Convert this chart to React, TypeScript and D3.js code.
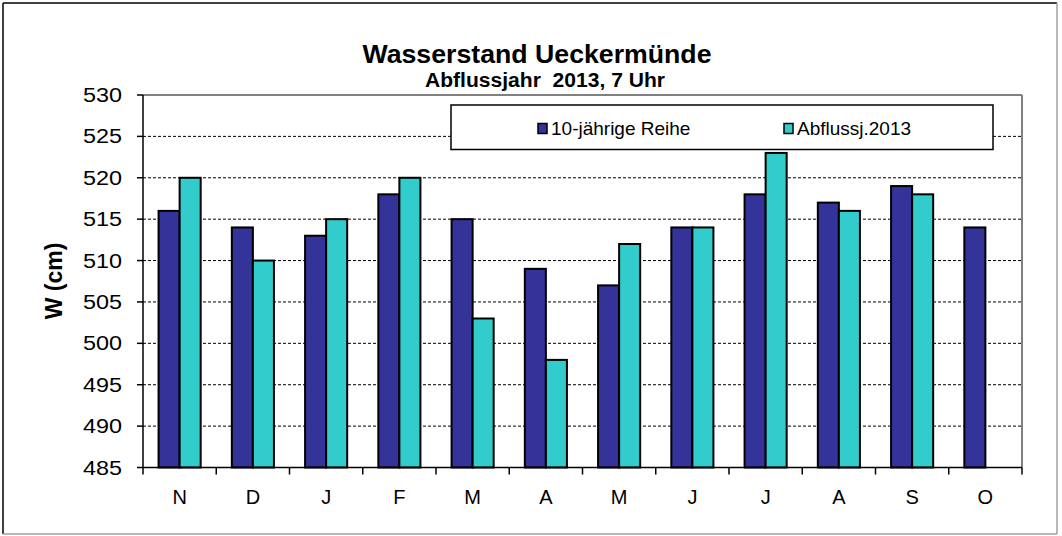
import { scaleBand, scaleLinear, range } from "d3";

const width = 1062;
const height = 536;
const MARGIN = { top: 95, right: 40, bottom: 68.5, left: 143 };
const boundsWidth = width - MARGIN.left - MARGIN.right;
const boundsHeight = height - MARGIN.top - MARGIN.bottom;

const months = ["N", "D", "J", "F", "M", "A", "M", "J", "J", "A", "S", "O"];
const seriesNames = ["10-jährige Reihe", "Abflussj.2013"];
const reihe10 = [516, 514, 513, 518, 515, 509, 507, 514, 518, 517, 519, 514];
const abfluss2013 = [520, 510, 515, 520, 503, 498, 512, 514, 523, 516, 518, null];
const yTicks = [485, 490, 495, 500, 505, 510, 515, 520, 525, 530];
const colors = ["#333399", "#33CCCC"];

const FONT = "'Liberation Sans', Arial, sans-serif";

export default function App() {
  const idx = months.map((_, i) => i);
  const x0 = scaleBand<number>().domain(idx).range([0, boundsWidth]).padding(0);
  const x1 = scaleBand<number>()
    .domain([0, 1])
    .range([0, x0.bandwidth()])
    .paddingInner(0)
    .paddingOuter(0.74);
  const y = scaleLinear().domain([485, 530]).range([boundsHeight, 0]);
  const series = [reihe10, abfluss2013];

  return (
    <svg
      width={width}
      height={height}
      style={{ position: "absolute", left: 0, top: 0, background: "#fff" }}
    >
      <rect width={width} height={height} fill="#fff" />
      {/* outer frame */}
      <line x1={3} x2={1057} y1={3} y2={3} stroke="#000" strokeWidth={1.5} />
      <line x1={3} x2={3} y1={3} y2={534} stroke="#000" strokeWidth={1.5} />
      <line x1={1057} x2={1057} y1={3} y2={534} stroke="#a0a0a0" strokeWidth={1.5} />
      <line x1={3} x2={1057} y1={534} y2={534} stroke="#a0a0a0" strokeWidth={1.5} />

      <text
        x={537}
        y={63}
        textAnchor="middle"
        fontFamily={FONT}
        fontWeight="bold"
        fontSize={26}
        textLength={349}
        lengthAdjust="spacingAndGlyphs"
      >
        Wasserstand Ueckermünde
      </text>
      <text
        x={545}
        y={87}
        textAnchor="middle"
        fontFamily={FONT}
        fontWeight="bold"
        fontSize={20}
        textLength={240}
        lengthAdjust="spacingAndGlyphs"
        style={{ whiteSpace: "pre" }}
      >
        {"Abflussjahr  2013, 7 Uhr"}
      </text>

      <text
        transform={`translate(62, 281) rotate(-90)`}
        textAnchor="middle"
        fontFamily={FONT}
        fontWeight="bold"
        fontSize={23}
      >
        W (cm)
      </text>

      <g transform={`translate(${MARGIN.left},${MARGIN.top})`}>
        {yTicks.slice(1, -1).map((v) => (
          <line
            key={"g" + v}
            x1={0}
            x2={boundsWidth}
            y1={y(v)}
            y2={y(v)}
            stroke="#000"
            strokeWidth={1}
            strokeDasharray="3,2"
          />
        ))}
        {/* plot area border top/right */}
        <line x1={0} x2={boundsWidth} y1={0} y2={0} stroke="#808080" strokeWidth={2} />
        <line x1={boundsWidth} x2={boundsWidth} y1={0} y2={boundsHeight} stroke="#808080" strokeWidth={2} />

        {idx.map((i) =>
          series.map((s, si) => {
            const v = s[i];
            if (v == null) return null;
            return (
              <rect
                key={i + "-" + si}
                x={(x0(i) ?? 0) + (x1(si) ?? 0)}
                y={y(v)}
                width={x1.bandwidth()}
                height={boundsHeight - y(v)}
                fill={colors[si]}
                stroke="#000"
                strokeWidth={2}
              />
            );
          })
        )}

        {/* y axis */}
        <line x1={0} x2={0} y1={0} y2={boundsHeight} stroke="#000" strokeWidth={1.5} />
        {yTicks.map((v) => (
          <g key={"t" + v}>
            <line x1={-6} x2={0} y1={y(v)} y2={y(v)} stroke="#000" strokeWidth={1.5} />
            <text
              x={-21}
              y={y(v) + 7}
              textAnchor="end"
              fontFamily={FONT}
              fontSize={20}
              textLength={39}
              lengthAdjust="spacingAndGlyphs"
            >
              {v}
            </text>
          </g>
        ))}

        {/* x axis */}
        <line x1={0} x2={boundsWidth} y1={boundsHeight} y2={boundsHeight} stroke="#000" strokeWidth={1.5} />
        {range(months.length + 1).map((i) => (
          <line
            key={"xt" + i}
            x1={i * x0.step()}
            x2={i * x0.step()}
            y1={boundsHeight}
            y2={boundsHeight + 7}
            stroke="#000"
            strokeWidth={1.5}
          />
        ))}
        {months.map((m, i) => (
          <text
            key={"xl" + i}
            x={(x0(i) ?? 0) + x0.bandwidth() / 2}
            y={boundsHeight + 36}
            textAnchor="middle"
            fontFamily={FONT}
            fontSize={20}
          >
            {m}
          </text>
        ))}
      </g>

      {/* legend */}
      <rect x={451} y={105} width={542} height={44.5} fill="#fff" stroke="#000" strokeWidth={1.5} />
      {seriesNames.map((name, i) => {
        const lx = i === 0 ? 538 : 784;
        return (
          <g key={name}>
            <rect x={lx} y={123.5} width={9} height={10} fill={colors[i]} stroke="#000" strokeWidth={1.5} />
            <text x={lx + 13} y={134.5} fontFamily={FONT} fontSize={19}>
              {name}
            </text>
          </g>
        );
      })}
    </svg>
  );
}
